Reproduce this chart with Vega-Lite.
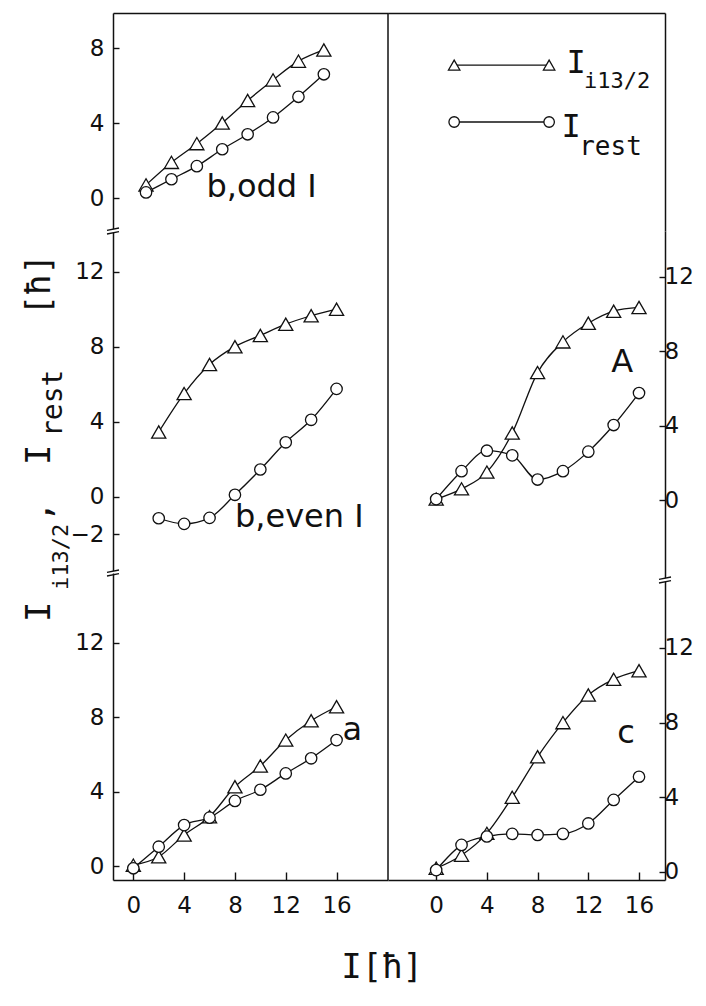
{
  "$schema": "https://vega.github.io/schema/vega-lite/v6.json",
  "background": "white",
  "padding": {"left": 22, "top": 12, "right": 5, "bottom": 8},
  "config": {
    "view": {"stroke": null},
    "font": "DejaVu Sans",
    "axis": {
      "domainColor": "#111", "domainWidth": 1.5, "tickColor": "#111", "tickWidth": 1.4,
      "labelColor": "#111", "labelFont": "DejaVu Sans", "labelFontSize": 23, "grid": false
    }
  },
  "datasets": {
    "pts": [
      {"panel": "odd", "series": "i13/2", "I": 1, "v": 0.7}, {"panel": "odd", "series": "i13/2", "I": 3, "v": 1.9},
      {"panel": "odd", "series": "i13/2", "I": 5, "v": 2.9}, {"panel": "odd", "series": "i13/2", "I": 7, "v": 4.0},
      {"panel": "odd", "series": "i13/2", "I": 9, "v": 5.2}, {"panel": "odd", "series": "i13/2", "I": 11, "v": 6.3},
      {"panel": "odd", "series": "i13/2", "I": 13, "v": 7.3}, {"panel": "odd", "series": "i13/2", "I": 15, "v": 7.9},
      {"panel": "odd", "series": "rest", "I": 1, "v": 0.3}, {"panel": "odd", "series": "rest", "I": 3, "v": 1.0},
      {"panel": "odd", "series": "rest", "I": 5, "v": 1.7}, {"panel": "odd", "series": "rest", "I": 7, "v": 2.6},
      {"panel": "odd", "series": "rest", "I": 9, "v": 3.4}, {"panel": "odd", "series": "rest", "I": 11, "v": 4.3},
      {"panel": "odd", "series": "rest", "I": 13, "v": 5.4}, {"panel": "odd", "series": "rest", "I": 15, "v": 6.6},

      {"panel": "even", "series": "i13/2", "I": 2, "v": 3.45}, {"panel": "even", "series": "i13/2", "I": 4, "v": 5.5},
      {"panel": "even", "series": "i13/2", "I": 6, "v": 7.05}, {"panel": "even", "series": "i13/2", "I": 8, "v": 8.0},
      {"panel": "even", "series": "i13/2", "I": 10, "v": 8.6}, {"panel": "even", "series": "i13/2", "I": 12, "v": 9.2},
      {"panel": "even", "series": "i13/2", "I": 14, "v": 9.65}, {"panel": "even", "series": "i13/2", "I": 16, "v": 10.0},
      {"panel": "even", "series": "rest", "I": 2, "v": -1.15}, {"panel": "even", "series": "rest", "I": 4, "v": -1.45},
      {"panel": "even", "series": "rest", "I": 6, "v": -1.13}, {"panel": "even", "series": "rest", "I": 8, "v": 0.1},
      {"panel": "even", "series": "rest", "I": 10, "v": 1.45}, {"panel": "even", "series": "rest", "I": 12, "v": 2.9},
      {"panel": "even", "series": "rest", "I": 14, "v": 4.1}, {"panel": "even", "series": "rest", "I": 16, "v": 5.75},

      {"panel": "a", "series": "i13/2", "I": 0, "v": 0.05}, {"panel": "a", "series": "i13/2", "I": 2, "v": 0.5},
      {"panel": "a", "series": "i13/2", "I": 4, "v": 1.67}, {"panel": "a", "series": "i13/2", "I": 6, "v": 2.65},
      {"panel": "a", "series": "i13/2", "I": 8, "v": 4.26}, {"panel": "a", "series": "i13/2", "I": 10, "v": 5.38},
      {"panel": "a", "series": "i13/2", "I": 12, "v": 6.77}, {"panel": "a", "series": "i13/2", "I": 14, "v": 7.81},
      {"panel": "a", "series": "i13/2", "I": 16, "v": 8.56},
      {"panel": "a", "series": "rest", "I": 0, "v": -0.12}, {"panel": "a", "series": "rest", "I": 2, "v": 1.04},
      {"panel": "a", "series": "rest", "I": 4, "v": 2.2}, {"panel": "a", "series": "rest", "I": 6, "v": 2.6},
      {"panel": "a", "series": "rest", "I": 8, "v": 3.5}, {"panel": "a", "series": "rest", "I": 10, "v": 4.1},
      {"panel": "a", "series": "rest", "I": 12, "v": 4.98}, {"panel": "a", "series": "rest", "I": 14, "v": 5.79},
      {"panel": "a", "series": "rest", "I": 16, "v": 6.77},

      {"panel": "A", "series": "i13/2", "I": 0, "v": 0.05}, {"panel": "A", "series": "i13/2", "I": 2, "v": 0.6},
      {"panel": "A", "series": "i13/2", "I": 4, "v": 1.5}, {"panel": "A", "series": "i13/2", "I": 6, "v": 3.6},
      {"panel": "A", "series": "i13/2", "I": 8, "v": 6.85}, {"panel": "A", "series": "i13/2", "I": 10, "v": 8.5},
      {"panel": "A", "series": "i13/2", "I": 12, "v": 9.5}, {"panel": "A", "series": "i13/2", "I": 14, "v": 10.15},
      {"panel": "A", "series": "i13/2", "I": 16, "v": 10.35},
      {"panel": "A", "series": "rest", "I": 0, "v": 0.05}, {"panel": "A", "series": "rest", "I": 2, "v": 1.55},
      {"panel": "A", "series": "rest", "I": 4, "v": 2.65}, {"panel": "A", "series": "rest", "I": 6, "v": 2.4},
      {"panel": "A", "series": "rest", "I": 8, "v": 1.1}, {"panel": "A", "series": "rest", "I": 10, "v": 1.55},
      {"panel": "A", "series": "rest", "I": 12, "v": 2.6}, {"panel": "A", "series": "rest", "I": 14, "v": 4.03},
      {"panel": "A", "series": "rest", "I": 16, "v": 5.75},

      {"panel": "c", "series": "i13/2", "I": 0, "v": 0.2}, {"panel": "c", "series": "i13/2", "I": 2, "v": 0.9},
      {"panel": "c", "series": "i13/2", "I": 4, "v": 2.07}, {"panel": "c", "series": "i13/2", "I": 6, "v": 4.0},
      {"panel": "c", "series": "i13/2", "I": 8, "v": 6.17}, {"panel": "c", "series": "i13/2", "I": 10, "v": 8.0},
      {"panel": "c", "series": "i13/2", "I": 12, "v": 9.48}, {"panel": "c", "series": "i13/2", "I": 14, "v": 10.32},
      {"panel": "c", "series": "i13/2", "I": 16, "v": 10.78},
      {"panel": "c", "series": "rest", "I": 0, "v": 0.1}, {"panel": "c", "series": "rest", "I": 2, "v": 1.45},
      {"panel": "c", "series": "rest", "I": 4, "v": 1.9}, {"panel": "c", "series": "rest", "I": 6, "v": 2.04},
      {"panel": "c", "series": "rest", "I": 8, "v": 1.98}, {"panel": "c", "series": "rest", "I": 10, "v": 2.04},
      {"panel": "c", "series": "rest", "I": 12, "v": 2.6}, {"panel": "c", "series": "rest", "I": 14, "v": 3.86},
      {"panel": "c", "series": "rest", "I": 16, "v": 5.1}
    ]
  },
  "title": {"text": "I[ħ]", "orient": "bottom", "anchor": "middle", "font": "DejaVu Sans Mono", "fontSize": 34, "fontWeight": "normal", "color": "#111", "offset": 34, "dx": 24},
  "spacing": -1,
  "hconcat": [
    {
      "spacing": 0,
      "bounds": "flush",
      "vconcat": [
        {
          "width": 275, "height": 218,
          "layer": [
            {"data": {"name": "pts"}, "transform": [{"filter": "datum.panel == 'odd'"}],
             "mark": {"type": "line", "interpolate": "monotone", "color": "#111", "strokeWidth": 1.3},
             "encoding": {
               "x": {"field": "I", "type": "quantitative", "scale": {"domain": [-1.6, 20.05], "nice": false, "zero": false},
                     "axis": {"orient": "top", "labels": false, "ticks": false, "title": null}},
               "y": {"field": "v", "type": "quantitative", "scale": {"domain": [-1.76, 9.87], "nice": false, "zero": false},
                     "axis": {"orient": "left", "values": [0, 4, 8], "title": null, "tickSize": -6, "labelPadding": 15}},
               "detail": {"field": "series"}
             }},
            {"data": {"name": "pts"}, "transform": [{"filter": "datum.panel == 'odd'"}],
             "mark": {"type": "point", "filled": true, "fill": "white", "stroke": "#111", "strokeWidth": 1.3, "opacity": 1},
             "encoding": {
               "x": {"field": "I", "type": "quantitative", "scale": {"domain": [-1.6, 20.05], "nice": false, "zero": false}},
               "y": {"field": "v", "type": "quantitative", "scale": {"domain": [-1.76, 9.87], "nice": false, "zero": false}},
               "shape": {"field": "series", "scale": {"domain": ["i13/2", "rest"], "range": ["triangle-up", "circle"]}, "legend": null},
               "size": {"field": "series", "type": "nominal", "scale": {"domain": ["i13/2", "rest"], "range": [200, 130]}, "legend": null}
             }},
            {"data": {"values": [{"label": "b,odd I"}]},
             "mark": {"type": "text", "fontSize": 32, "color": "#111", "align": "center", "baseline": "alphabetic"},
             "encoding": {
               "text": {"field": "label"},
               "x": {"datum": 10.1, "type": "quantitative", "scale": {"domain": [-1.6, 20.05], "nice": false, "zero": false}},
               "y": {"datum": 0.05, "type": "quantitative", "scale": {"domain": [-1.76, 9.87], "nice": false, "zero": false}}
             }}
          ]
        },
        {
          "width": 275, "height": 342,
          "layer": [
            {"data": {"name": "pts"}, "transform": [{"filter": "datum.panel == 'even'"}],
             "mark": {"type": "line", "interpolate": "monotone", "color": "#111", "strokeWidth": 1.3},
             "encoding": {
               "x": {"field": "I", "type": "quantitative", "scale": {"domain": [-1.6, 20.05], "nice": false, "zero": false}, "axis": null},
               "y": {"field": "v", "type": "quantitative", "scale": {"domain": [-4.07, 14.17], "nice": false, "zero": false},
                     "axis": {"orient": "left", "values": [-2, 0, 4, 8, 12], "title": null, "tickSize": -6, "labelPadding": 15}},
               "detail": {"field": "series"}
             }},
            {"data": {"name": "pts"}, "transform": [{"filter": "datum.panel == 'even'"}],
             "mark": {"type": "point", "filled": true, "fill": "white", "stroke": "#111", "strokeWidth": 1.3, "opacity": 1},
             "encoding": {
               "x": {"field": "I", "type": "quantitative", "scale": {"domain": [-1.6, 20.05], "nice": false, "zero": false}},
               "y": {"field": "v", "type": "quantitative", "scale": {"domain": [-4.07, 14.17], "nice": false, "zero": false}},
               "shape": {"field": "series", "scale": {"domain": ["i13/2", "rest"], "range": ["triangle-up", "circle"]}, "legend": null},
               "size": {"field": "series", "type": "nominal", "scale": {"domain": ["i13/2", "rest"], "range": [200, 130]}, "legend": null}
             }},
            {"data": {"values": [{"label": "b,even I"}]},
             "mark": {"type": "text", "fontSize": 32, "color": "#111", "align": "center", "baseline": "alphabetic"},
             "encoding": {
               "text": {"field": "label"},
               "x": {"datum": 13.07, "type": "quantitative", "scale": {"domain": [-1.6, 20.05], "nice": false, "zero": false}},
               "y": {"datum": -1.62, "type": "quantitative", "scale": {"domain": [-4.07, 14.17], "nice": false, "zero": false}}
             }},
            {"data": {"values": [{"edge": "top"}]},
             "mark": {"type": "point", "shape": "M-1,-0.1L1,-0.5L1,0.1L-1,0.5Z", "filled": true, "fill": "white", "strokeOpacity": 0, "size": 144, "opacity": 1},
             "encoding": {
               "x": {"datum": -1.6, "type": "quantitative", "scale": {"domain": [-1.6, 20.05], "nice": false, "zero": false}},
               "y": {"datum": 14.17, "type": "quantitative", "scale": {"domain": [-4.07, 14.17], "nice": false, "zero": false}}
             }},
            {"data": {"values": [{"edge": "top"}]},
             "mark": {"type": "point", "shape": "M-1,-0.1L1,-0.5M-1,0.5L1,0.1", "filled": false, "stroke": "#111", "strokeWidth": 1.3, "size": 144, "opacity": 1},
             "encoding": {
               "x": {"datum": -1.6, "type": "quantitative", "scale": {"domain": [-1.6, 20.05], "nice": false, "zero": false}},
               "y": {"datum": 14.17, "type": "quantitative", "scale": {"domain": [-4.07, 14.17], "nice": false, "zero": false}}
             }},
            {"data": {"values": [{"edge": "bottom"}]},
             "mark": {"type": "point", "shape": "M-1,-0.1L1,-0.5L1,0.1L-1,0.5Z", "filled": true, "fill": "white", "strokeOpacity": 0, "size": 144, "opacity": 1},
             "encoding": {
               "x": {"datum": -1.6, "type": "quantitative", "scale": {"domain": [-1.6, 20.05], "nice": false, "zero": false}},
               "y": {"datum": -4.07, "type": "quantitative", "scale": {"domain": [-4.07, 14.17], "nice": false, "zero": false}}
             }},
            {"data": {"values": [{"edge": "bottom"}]},
             "mark": {"type": "point", "shape": "M-1,-0.1L1,-0.5M-1,0.5L1,0.1", "filled": false, "stroke": "#111", "strokeWidth": 1.3, "size": 144, "opacity": 1},
             "encoding": {
               "x": {"datum": -1.6, "type": "quantitative", "scale": {"domain": [-1.6, 20.05], "nice": false, "zero": false}},
               "y": {"datum": -4.07, "type": "quantitative", "scale": {"domain": [-4.07, 14.17], "nice": false, "zero": false}}
             }},
            {"data": {"values": [{"piece": "I"}]},
             "mark": {"type": "text", "angle": 270, "font": "DejaVu Sans Mono", "fontSize": 34, "color": "#111", "align": "left", "baseline": "alphabetic"},
             "encoding": {
               "text": {"field": "piece"},
               "x": {"datum": -6.56, "type": "quantitative", "scale": {"domain": [-1.6, 20.05], "nice": false, "zero": false}},
               "y": {"datum": -6.68, "type": "quantitative", "scale": {"domain": [-4.07, 14.17], "nice": false, "zero": false}}
             }},
            {"data": {"values": [{"piece": "i13/2"}]},
             "mark": {"type": "text", "angle": 270, "font": "DejaVu Sans Mono", "fontSize": 22, "color": "#111", "align": "left", "baseline": "alphabetic"},
             "encoding": {
               "text": {"field": "piece"},
               "x": {"datum": -5.14, "type": "quantitative", "scale": {"domain": [-1.6, 20.05], "nice": false, "zero": false}},
               "y": {"datum": -4.98, "type": "quantitative", "scale": {"domain": [-4.07, 14.17], "nice": false, "zero": false}}
             }},
            {"data": {"values": [{"piece": ","}]},
             "mark": {"type": "text", "angle": 270, "font": "DejaVu Sans Mono", "fontSize": 34, "color": "#111", "align": "left", "baseline": "alphabetic"},
             "encoding": {
               "text": {"field": "piece"},
               "x": {"datum": -6.56, "type": "quantitative", "scale": {"domain": [-1.6, 20.05], "nice": false, "zero": false}},
               "y": {"datum": -1.35, "type": "quantitative", "scale": {"domain": [-4.07, 14.17], "nice": false, "zero": false}}
             }},
            {"data": {"values": [{"piece": "I"}]},
             "mark": {"type": "text", "angle": 270, "font": "DejaVu Sans Mono", "fontSize": 34, "color": "#111", "align": "left", "baseline": "alphabetic"},
             "encoding": {
               "text": {"field": "piece"},
               "x": {"datum": -6.56, "type": "quantitative", "scale": {"domain": [-1.6, 20.05], "nice": false, "zero": false}},
               "y": {"datum": 1.69, "type": "quantitative", "scale": {"domain": [-4.07, 14.17], "nice": false, "zero": false}}
             }},
            {"data": {"values": [{"piece": "rest"}]},
             "mark": {"type": "text", "angle": 270, "font": "DejaVu Sans Mono", "fontSize": 28, "color": "#111", "align": "left", "baseline": "alphabetic"},
             "encoding": {
               "text": {"field": "piece"},
               "x": {"datum": -5.62, "type": "quantitative", "scale": {"domain": [-1.6, 20.05], "nice": false, "zero": false}},
               "y": {"datum": 3.18, "type": "quantitative", "scale": {"domain": [-4.07, 14.17], "nice": false, "zero": false}}
             }},
            {"data": {"values": [{"piece": "[ħ]"}]},
             "mark": {"type": "text", "angle": 270, "font": "DejaVu Sans Mono", "fontSize": 34, "color": "#111", "align": "left", "baseline": "alphabetic"},
             "encoding": {
               "text": {"field": "piece"},
               "x": {"datum": -6.56, "type": "quantitative", "scale": {"domain": [-1.6, 20.05], "nice": false, "zero": false}},
               "y": {"datum": 9.67, "type": "quantitative", "scale": {"domain": [-4.07, 14.17], "nice": false, "zero": false}}
             }}
          ]
        },
        {
          "width": 275, "height": 307,
          "layer": [
            {"data": {"name": "pts"}, "transform": [{"filter": "datum.panel == 'a'"}],
             "mark": {"type": "line", "interpolate": "monotone", "color": "#111", "strokeWidth": 1.3},
             "encoding": {
               "x": {"field": "I", "type": "quantitative", "scale": {"domain": [-1.6, 20.05], "nice": false, "zero": false},
                     "axis": {"orient": "bottom", "values": [0, 4, 8, 12, 16], "title": null, "tickSize": -8, "labelPadding": 22}},
               "y": {"field": "v", "type": "quantitative", "scale": {"domain": [-0.75, 15.75], "nice": false, "zero": false},
                     "axis": {"orient": "left", "values": [0, 4, 8, 12], "title": null, "tickSize": -6, "labelPadding": 15}},
               "detail": {"field": "series"}
             }},
            {"data": {"name": "pts"}, "transform": [{"filter": "datum.panel == 'a'"}],
             "mark": {"type": "point", "filled": true, "fill": "white", "stroke": "#111", "strokeWidth": 1.3, "opacity": 1},
             "encoding": {
               "x": {"field": "I", "type": "quantitative", "scale": {"domain": [-1.6, 20.05], "nice": false, "zero": false}},
               "y": {"field": "v", "type": "quantitative", "scale": {"domain": [-0.75, 15.75], "nice": false, "zero": false}},
               "shape": {"field": "series", "scale": {"domain": ["i13/2", "rest"], "range": ["triangle-up", "circle"]}, "legend": null},
               "size": {"field": "series", "type": "nominal", "scale": {"domain": ["i13/2", "rest"], "range": [200, 130]}, "legend": null}
             }},
            {"data": {"values": [{"label": "a"}]},
             "mark": {"type": "text", "fontSize": 32, "color": "#111", "align": "center", "baseline": "alphabetic"},
             "encoding": {
               "text": {"field": "label"},
               "x": {"datum": 17.24, "type": "quantitative", "scale": {"domain": [-1.6, 20.05], "nice": false, "zero": false}},
               "y": {"datum": 6.77, "type": "quantitative", "scale": {"domain": [-0.75, 15.75], "nice": false, "zero": false}}
             }}
          ]
        }
      ]
    },
    {
      "spacing": 0,
      "bounds": "flush",
      "vconcat": [
        {
          "width": 277, "height": 218,
          "layer": [
            {"data": {"values": [{"edge": "left"}]},
             "mark": {"type": "rule", "color": "#111", "strokeWidth": 1.5},
             "encoding": {
               "x": {"datum": -3.8, "type": "quantitative", "scale": {"domain": [-3.8, 18.05], "nice": false, "zero": false},
                     "axis": {"orient": "top", "labels": false, "ticks": false, "title": null}},
               "y": {"datum": 0, "type": "quantitative", "scale": {"domain": [0, 10], "nice": false, "zero": false},
                     "axis": {"orient": "right", "labels": false, "ticks": false, "title": null}},
               "y2": {"datum": 10}
             }},
            {"data": {"values": [{"key": "i13/2"}]},
             "mark": {"type": "rule", "color": "#111", "strokeWidth": 1.3},
             "encoding": {
               "x": {"datum": 1.42, "type": "quantitative", "scale": {"domain": [-3.8, 18.05], "nice": false, "zero": false}},
               "x2": {"datum": 8.91},
               "y": {"datum": 7.61, "type": "quantitative", "scale": {"domain": [0, 10], "nice": false, "zero": false}}
             }},
            {"data": {"values": [{"key": "i13/2"}]},
             "mark": {"type": "point", "shape": "triangle-up", "filled": true, "fill": "white", "stroke": "#111", "strokeWidth": 1.3, "size": 130, "opacity": 1},
             "encoding": {
               "x": {"datum": 1.42, "type": "quantitative", "scale": {"domain": [-3.8, 18.05], "nice": false, "zero": false}},
               "y": {"datum": 7.61, "type": "quantitative", "scale": {"domain": [0, 10], "nice": false, "zero": false}}
             }},
            {"data": {"values": [{"key": "i13/2"}]},
             "mark": {"type": "point", "shape": "triangle-up", "filled": true, "fill": "white", "stroke": "#111", "strokeWidth": 1.3, "size": 130, "opacity": 1},
             "encoding": {
               "x": {"datum": 8.91, "type": "quantitative", "scale": {"domain": [-3.8, 18.05], "nice": false, "zero": false}},
               "y": {"datum": 7.61, "type": "quantitative", "scale": {"domain": [0, 10], "nice": false, "zero": false}}
             }},
            {"data": {"values": [{"key": "rest"}]},
             "mark": {"type": "rule", "color": "#111", "strokeWidth": 1.3},
             "encoding": {
               "x": {"datum": 1.42, "type": "quantitative", "scale": {"domain": [-3.8, 18.05], "nice": false, "zero": false}},
               "x2": {"datum": 8.91},
               "y": {"datum": 5.0, "type": "quantitative", "scale": {"domain": [0, 10], "nice": false, "zero": false}}
             }},
            {"data": {"values": [{"key": "rest"}]},
             "mark": {"type": "point", "shape": "circle", "filled": true, "fill": "white", "stroke": "#111", "strokeWidth": 1.3, "size": 110, "opacity": 1},
             "encoding": {
               "x": {"datum": 1.42, "type": "quantitative", "scale": {"domain": [-3.8, 18.05], "nice": false, "zero": false}},
               "y": {"datum": 5.0, "type": "quantitative", "scale": {"domain": [0, 10], "nice": false, "zero": false}}
             }},
            {"data": {"values": [{"key": "rest"}]},
             "mark": {"type": "point", "shape": "circle", "filled": true, "fill": "white", "stroke": "#111", "strokeWidth": 1.3, "size": 110, "opacity": 1},
             "encoding": {
               "x": {"datum": 8.91, "type": "quantitative", "scale": {"domain": [-3.8, 18.05], "nice": false, "zero": false}},
               "y": {"datum": 5.0, "type": "quantitative", "scale": {"domain": [0, 10], "nice": false, "zero": false}}
             }},
            {"data": {"values": [{"piece": "I"}]},
             "mark": {"type": "text", "font": "DejaVu Sans Mono", "fontSize": 32, "color": "#111", "align": "center", "baseline": "alphabetic"},
             "encoding": {
               "text": {"field": "piece"},
               "x": {"datum": 11.04, "type": "quantitative", "scale": {"domain": [-3.8, 18.05], "nice": false, "zero": false}},
               "y": {"datum": 7.25, "type": "quantitative", "scale": {"domain": [0, 10], "nice": false, "zero": false}}
             }},
            {"data": {"values": [{"piece": "i13/2"}]},
             "mark": {"type": "text", "font": "DejaVu Sans Mono", "fontSize": 22, "color": "#111", "align": "left", "baseline": "alphabetic"},
             "encoding": {
               "text": {"field": "piece"},
               "x": {"datum": 11.67, "type": "quantitative", "scale": {"domain": [-3.8, 18.05], "nice": false, "zero": false}},
               "y": {"datum": 6.56, "type": "quantitative", "scale": {"domain": [0, 10], "nice": false, "zero": false}}
             }},
            {"data": {"values": [{"piece": "I"}]},
             "mark": {"type": "text", "font": "DejaVu Sans Mono", "fontSize": 32, "color": "#111", "align": "center", "baseline": "alphabetic"},
             "encoding": {
               "text": {"field": "piece"},
               "x": {"datum": 10.65, "type": "quantitative", "scale": {"domain": [-3.8, 18.05], "nice": false, "zero": false}},
               "y": {"datum": 4.31, "type": "quantitative", "scale": {"domain": [0, 10], "nice": false, "zero": false}}
             }},
            {"data": {"values": [{"piece": "rest"}]},
             "mark": {"type": "text", "font": "DejaVu Sans Mono", "fontSize": 26, "color": "#111", "align": "left", "baseline": "alphabetic"},
             "encoding": {
               "text": {"field": "piece"},
               "x": {"datum": 11.28, "type": "quantitative", "scale": {"domain": [-3.8, 18.05], "nice": false, "zero": false}},
               "y": {"datum": 3.49, "type": "quantitative", "scale": {"domain": [0, 10], "nice": false, "zero": false}}
             }}
          ]
        },
        {
          "width": 277, "height": 349,
          "layer": [
            {"data": {"values": [{"edge": "left"}]},
             "mark": {"type": "rule", "color": "#111", "strokeWidth": 1.5},
             "encoding": {
               "x": {"datum": -3.8, "type": "quantitative", "scale": {"domain": [-3.8, 18.05], "nice": false, "zero": false}, "axis": null},
               "y": {"datum": -4.3, "type": "quantitative", "scale": {"domain": [-4.3, 14.46], "nice": false, "zero": false},
                     "axis": {"orient": "right", "values": [0, 4, 8, 12], "title": null, "tickSize": -6, "labelPadding": 5}},
               "y2": {"datum": 14.46}
             }},
            {"data": {"name": "pts"}, "transform": [{"filter": "datum.panel == 'A'"}],
             "mark": {"type": "line", "interpolate": "monotone", "color": "#111", "strokeWidth": 1.3},
             "encoding": {
               "x": {"field": "I", "type": "quantitative", "scale": {"domain": [-3.8, 18.05], "nice": false, "zero": false}},
               "y": {"field": "v", "type": "quantitative", "scale": {"domain": [-4.3, 14.46], "nice": false, "zero": false}},
               "detail": {"field": "series"}
             }},
            {"data": {"name": "pts"}, "transform": [{"filter": "datum.panel == 'A'"}],
             "mark": {"type": "point", "filled": true, "fill": "white", "stroke": "#111", "strokeWidth": 1.3, "opacity": 1},
             "encoding": {
               "x": {"field": "I", "type": "quantitative", "scale": {"domain": [-3.8, 18.05], "nice": false, "zero": false}},
               "y": {"field": "v", "type": "quantitative", "scale": {"domain": [-4.3, 14.46], "nice": false, "zero": false}},
               "shape": {"field": "series", "scale": {"domain": ["i13/2", "rest"], "range": ["triangle-up", "circle"]}, "legend": null},
               "size": {"field": "series", "type": "nominal", "scale": {"domain": ["i13/2", "rest"], "range": [200, 130]}, "legend": null}
             }},
            {"data": {"values": [{"label": "A"}]},
             "mark": {"type": "text", "fontSize": 32, "color": "#111", "align": "center", "baseline": "alphabetic"},
             "encoding": {
               "text": {"field": "label"},
               "x": {"datum": 14.67, "type": "quantitative", "scale": {"domain": [-3.8, 18.05], "nice": false, "zero": false}},
               "y": {"datum": 6.88, "type": "quantitative", "scale": {"domain": [-4.3, 14.46], "nice": false, "zero": false}}
             }}
          ]
        },
        {
          "width": 277, "height": 300,
          "layer": [
            {"data": {"values": [{"edge": "left"}]},
             "mark": {"type": "rule", "color": "#111", "strokeWidth": 1.5},
             "encoding": {
               "x": {"datum": -3.8, "type": "quantitative", "scale": {"domain": [-3.8, 18.05], "nice": false, "zero": false},
                     "axis": {"orient": "bottom", "values": [0, 4, 8, 12, 16], "title": null, "tickSize": -8, "labelPadding": 22}},
               "y": {"datum": -0.43, "type": "quantitative", "scale": {"domain": [-0.43, 15.64], "nice": false, "zero": false},
                     "axis": {"orient": "right", "values": [0, 4, 8, 12], "title": null, "tickSize": -6, "labelPadding": 5}},
               "y2": {"datum": 15.64}
             }},
            {"data": {"name": "pts"}, "transform": [{"filter": "datum.panel == 'c'"}],
             "mark": {"type": "line", "interpolate": "monotone", "color": "#111", "strokeWidth": 1.3},
             "encoding": {
               "x": {"field": "I", "type": "quantitative", "scale": {"domain": [-3.8, 18.05], "nice": false, "zero": false}},
               "y": {"field": "v", "type": "quantitative", "scale": {"domain": [-0.43, 15.64], "nice": false, "zero": false}},
               "detail": {"field": "series"}
             }},
            {"data": {"name": "pts"}, "transform": [{"filter": "datum.panel == 'c'"}],
             "mark": {"type": "point", "filled": true, "fill": "white", "stroke": "#111", "strokeWidth": 1.3, "opacity": 1},
             "encoding": {
               "x": {"field": "I", "type": "quantitative", "scale": {"domain": [-3.8, 18.05], "nice": false, "zero": false}},
               "y": {"field": "v", "type": "quantitative", "scale": {"domain": [-0.43, 15.64], "nice": false, "zero": false}},
               "shape": {"field": "series", "scale": {"domain": ["i13/2", "rest"], "range": ["triangle-up", "circle"]}, "legend": null},
               "size": {"field": "series", "type": "nominal", "scale": {"domain": ["i13/2", "rest"], "range": [200, 130]}, "legend": null}
             }},
            {"data": {"values": [{"label": "c"}]},
             "mark": {"type": "text", "fontSize": 32, "color": "#111", "align": "center", "baseline": "alphabetic"},
             "encoding": {
               "text": {"field": "label"},
               "x": {"datum": 14.98, "type": "quantitative", "scale": {"domain": [-3.8, 18.05], "nice": false, "zero": false}},
               "y": {"datum": 6.91, "type": "quantitative", "scale": {"domain": [-0.43, 15.64], "nice": false, "zero": false}}
             }},
            {"data": {"values": [{"edge": "top"}]},
             "mark": {"type": "point", "shape": "M-1,-0.1L1,-0.5L1,0.1L-1,0.5Z", "filled": true, "fill": "white", "strokeOpacity": 0, "size": 144, "opacity": 1},
             "encoding": {
               "x": {"datum": 18.05, "type": "quantitative", "scale": {"domain": [-3.8, 18.05], "nice": false, "zero": false}},
               "y": {"datum": 15.64, "type": "quantitative", "scale": {"domain": [-0.43, 15.64], "nice": false, "zero": false}}
             }},
            {"data": {"values": [{"edge": "top"}]},
             "mark": {"type": "point", "shape": "M-1,-0.1L1,-0.5M-1,0.5L1,0.1", "filled": false, "stroke": "#111", "strokeWidth": 1.3, "size": 144, "opacity": 1},
             "encoding": {
               "x": {"datum": 18.05, "type": "quantitative", "scale": {"domain": [-3.8, 18.05], "nice": false, "zero": false}},
               "y": {"datum": 15.64, "type": "quantitative", "scale": {"domain": [-0.43, 15.64], "nice": false, "zero": false}}
             }}
          ]
        }
      ]
    }
  ]
}
